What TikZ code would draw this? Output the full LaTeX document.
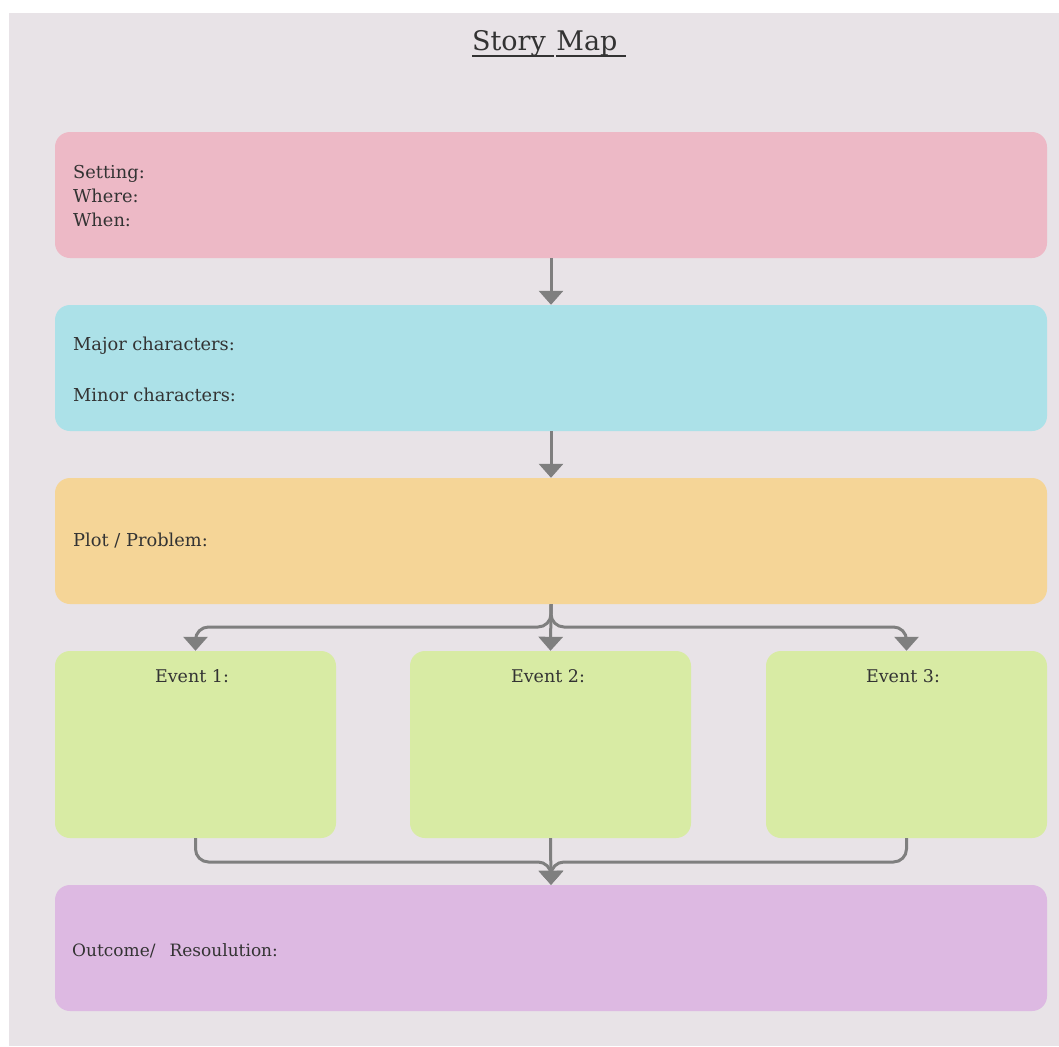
\documentclass[tikz,border=0pt]{standalone}
\usepackage{fontspec}
\setmainfont{DejaVu Serif}
\usetikzlibrary{arrows.meta}
\definecolor{bgc}{HTML}{E8E3E7}
\definecolor{pinkc}{HTML}{EDB9C6}
\definecolor{cyanc}{HTML}{ACE1E8}
\definecolor{orangec}{HTML}{F5D597}
\definecolor{greenc}{HTML}{D8EBA4}
\definecolor{purplec}{HTML}{DDB9E2}
\definecolor{txtc}{HTML}{333333}
\definecolor{linec}{HTML}{7F7F7F}
\newcommand\myul[1]{\setbox0\hbox{#1}\rlap{\rule[-6pt]{\wd0}{1.8pt}}\box0}
\tikzset{
  box/.style={draw=none, rounded corners=15pt, inner sep=0pt},
  wide/.style={box, minimum width=992pt, minimum height=126pt},
  evbox/.style={box, minimum width=281pt, minimum height=187pt, fill=greenc},
  lbl/.style={anchor=base west, inner sep=0pt, text=txtc, font=\fontsize{17.8}{20}\selectfont},
  evlbl/.style={anchor=base, inner sep=0pt, text=txtc, font=\fontsize{17.5}{20}\selectfont},
  conn/.style={draw=linec, line width=3pt, rounded corners=13pt,
    -{Triangle[width=24pt,length=14pt]}},
}
\begin{document}
\begin{tikzpicture}[x=1pt,y=-1pt]
\useasboundingbox (0,0) rectangle (1059,1046);
\fill[white] (0,0) rectangle (1059,1046);
\fill[bgc] (9,13) rectangle (1059,1046);
% title
\node[anchor=base, inner sep=0pt, text=txtc, font=\fontsize{27}{30}\selectfont] (title) at (549,51)
  {\myul{Story\ }\kern2pt\myul{Map\ }};
% boxes
\node[wide, fill=pinkc] (set) at (551,195) {};
\node[wide, fill=cyanc] (chr) at (551,368) {};
\node[wide, fill=orangec] (plot) at (551,541) {};
\node[evbox] (ev1) at (195.5,744.5) {};
\node[evbox] (ev2) at (550.5,744.5) {};
\node[evbox] (ev3) at (906.5,744.5) {};
\node[wide, fill=purplec] (out) at (551,948) {};
% texts
\node[lbl] (t1) at (73,178) {Setting:};
\node[lbl] (t2) at (73,202) {Where:};
\node[lbl] (t3) at (73,226.5) {When:};
\node[lbl] (t4) at (73,350.5) {Major characters:};
\node[lbl] (t5) at (73,401) {Minor characters:};
\node[lbl] (t6) at (73,546.5) {Plot / Problem:};
\node[evlbl] (e1) at (192,682.5) {Event 1:};
\node[evlbl] (e2) at (548,682.5) {Event 2:};
\node[evlbl] (e3) at (903,682.5) {Event 3:};
\node[lbl, font=\fontsize{17}{20}\selectfont] (t7) at (72,956.5) {Outcome/\hspace{14pt}Resoulution:};
% connectors
\draw[conn] (set.south) -- (chr.north);
\draw[conn] (chr.south) -- (plot.north);
\draw[conn] (plot.south) -- (551,627) -| (ev1.north);
\draw[conn] (plot.south) -- (ev2.north);
\draw[conn] (plot.south) -- (551,627) -| (ev3.north);
\draw[conn] (ev1.south) -- (195.5,862) -| (out.north);
\draw[conn] (ev2.south) -- (out.north);
\draw[conn] (ev3.south) -- (906.5,862) -| (out.north);
\end{tikzpicture}
\end{document}
